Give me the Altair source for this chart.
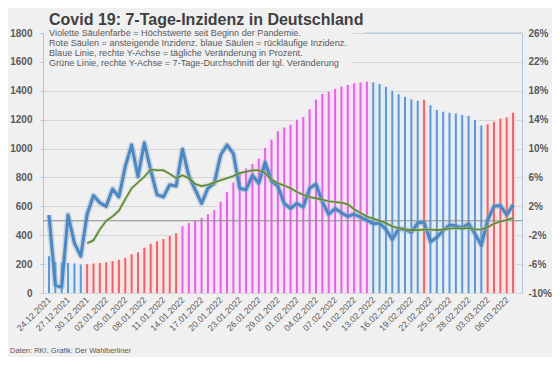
import json
import altair as alt
import pandas as pd

titel = "Covid 19: 7-Tage-Inzidenz in Deutschland"
untertitel = [
    "Violette Säulenfarbe = Höchstwerte seit Beginn der Pandemie.",
    "Rote Säulen = ansteigende Inzidenz. blaue Säulen = rückläufige Inzidenz.",
    "Blaue Linie, rechte Y-Achse = tägliche Veränderung in Prozent.",
    "Grüne Linie, rechte Y-Achse = 7-Tage-Durchschnitt der tgl. Veränderung",
]
quelle = "Daten: RKI, Grafik: Der Wahlberliner"

x_labels = ["24.12.2021", "27.12.2021", "30.12.2021", "02.01.2022", "05.01.2022",
            "08.01.2022", "11.01.2022", "14.01.2022", "17.01.2022", "20.01.2022",
            "23.01.2022", "26.01.2022", "29.01.2022", "01.02.2022", "04.02.2022",
            "07.02.2022", "10.02.2022", "13.02.2022", "16.02.2022", "19.02.2022",
            "22.02.2022", "25.02.2022", "28.02.2022", "03.03.2022", "06.03.2022"]

# 7-Tage-Inzidenz, 24.12.2021 - 07.03.2022
inzidenz = [255, 215, 210, 208, 205, 197, 200, 204, 208, 213,
            221, 230, 243, 268, 282, 314, 340, 358, 374, 395,
            414, 462, 484, 500, 520, 545, 575, 632, 698, 765,
            822, 862, 892, 930, 1005, 1062, 1120, 1145, 1165, 1200,
            1218, 1272, 1338, 1378, 1393, 1413, 1430, 1441, 1452, 1458,
            1463, 1459, 1447, 1428, 1400, 1376, 1358, 1341, 1331, 1337,
            1300, 1267, 1255, 1248, 1243, 1232, 1227, 1198, 1160, 1168,
            1186, 1207, 1215, 1248]
kategorie = (["blau"] * 6 + ["rot"] * 15 + ["violett"] * 30 + ["blau"] * 8
             + ["rot"] + ["blau"] * 9 + ["rot"] * 5)

# tägliche Veränderung in %
veraenderung = [0.8, -8.9, -9.2, 0.8, -3.1, -4.9, 0.9, 3.5, 2.5, 2.0,
                4.4, 3.3, 7.5, 10.5, 6.1, 10.8, 7.0, 3.6, 3.3, 5.0,
                4.8, 9.9, 6.2, 4.3, 2.4, 4.5, 5.2, 9.1, 10.5, 9.3,
                4.5, 4.3, 6.3, 5.2, 8.1, 5.5, 4.8, 2.4, 1.7, 2.4,
                1.9, 4.5, 5.1, 2.6, 0.9, 1.7, 1.1, 0.6, 0.9, 0.5,
                0.1, -0.4, -0.3, -1.2, -2.6, -1.1, -1.2, -1.6, -0.3, -0.2,
                -2.9, -2.3, -1.3, -0.6, -0.7, -1.0, -0.4, -1.8, -3.4, 0.1,
                2.0, 2.1, 0.8, 2.2]

# 7-Tage-Durchschnitt (ab 30.12.2021)
durchschnitt_start = 6
durchschnitt = [-3.1, -2.7, -1.2, 0.0, 0.6, 1.4, 3.0, 4.5, 5.3, 6.1,
                7.1, 7.0, 7.0, 6.5, 5.9, 6.3, 5.9, 5.1, 4.8, 5.0,
                5.3, 5.6, 5.9, 6.2, 6.6, 6.8, 7.0, 7.0, 6.6, 5.7,
                5.2, 4.9, 4.5, 4.0, 3.6, 3.3, 3.1, 2.9, 2.7, 2.6,
                2.5, 2.3, 1.6, 1.1, 0.6, 0.3, 0.0, -0.3, -0.8, -1.0,
                -1.2, -1.3, -1.3, -1.2, -1.2, -1.3, -1.2, -1.1, -1.0, -1.1,
                -1.0, -1.2, -1.2, -0.9, -0.4, -0.1, 0.1, 0.4]

farben = {"blau": "#6196cf", "rot": "#ea6469", "violett": "#e263e4"}
farben_hell = {"blau": "#e4edf8", "rot": "#f9e3e4", "violett": "#f8e2f8"}

n = len(inzidenz)
bars_df = pd.DataFrame({
    "i": list(range(n)),
    "inzidenz": inzidenz,
    "farbe": [farben[k] for k in kategorie],
    "hell": [farben_hell[k] for k in kategorie],
})
line_df = pd.DataFrame({"i": list(range(n)), "pct": veraenderung})
avg_df = pd.DataFrame({"i": list(range(durchschnitt_start, durchschnitt_start + len(durchschnitt))),
                       "pct": durchschnitt})

W, H = 479, 260
FONT = "Liberation Sans"
GRAY = "#595959"
AXBLUE = "#a9c6e2"

x_enc = alt.X(
    "i:Q",
    scale=alt.Scale(domain=[-0.154, 73.616], nice=False, zero=False),
    axis=alt.Axis(
        values=list(range(0, 73, 3)),
        labelExpr=json.dumps(x_labels) + "[round(datum.value / 3)]",
        labelAngle=-45, labelAlign="right", labelBaseline="middle",
        labelFontSize=8.8, labelColor=GRAY, labelFont=FONT, labelPadding=5,
        labelFlush=False, labelOverlap=False, labelBound=False,
        ticks=False, domain=False, grid=False, title=None,
    ),
)

left_axis = alt.Axis(
    values=list(range(0, 1801, 200)), orient="left", format="d",
    labelFontSize=10, labelFontWeight="bold", labelColor=GRAY, labelFont=FONT,
    labelPadding=8, tickSize=3, tickColor=AXBLUE, domainColor=AXBLUE,
    grid=True, gridColor="#d6d6d6", gridWidth=1, title=None,
)
y_left = alt.Y("inzidenz:Q", scale=alt.Scale(domain=[0, 1800], nice=False), axis=left_axis)

pale = alt.Chart(bars_df).mark_bar(size=6.5).encode(
    x=x_enc, y=y_left, color=alt.Color("hell:N", scale=None))
thin = alt.Chart(bars_df).mark_bar(size=2).encode(
    x=x_enc, y=y_left, color=alt.Color("farbe:N", scale=None))
left_group = alt.layer(pale, thin)

right_axis = alt.Axis(
    values=list(range(-10, 27, 4)), orient="right",
    labelExpr="datum.value + '%'",
    labelFontSize=10, labelFontWeight="bold", labelColor=GRAY, labelFont=FONT,
    labelPadding=6, ticks=False, domainColor=AXBLUE, grid=False, title=None,
)
y_right = alt.Y("pct:Q", scale=alt.Scale(domain=[-10, 26], nice=False, zero=False), axis=right_axis)

zero = alt.Chart(pd.DataFrame({"pct": [0]})).mark_rule(color="#8c8c8c", strokeWidth=1).encode(y=y_right)
shadow = alt.Chart(line_df).mark_line(color="#8aa4be", strokeWidth=6, opacity=0.4, strokeJoin="round").encode(x=x_enc, y=y_right)
blue = alt.Chart(line_df).mark_line(color="#4a87c5", strokeWidth=3, strokeJoin="round").encode(x=x_enc, y=y_right)
gshadow = alt.Chart(avg_df).mark_line(color="#b5c4a5", strokeWidth=3.5, opacity=0.5).encode(x=x_enc, y=y_right)
green = alt.Chart(avg_df).mark_line(color="#5b8a2c", strokeWidth=1.6).encode(x=x_enc, y=y_right)
right_group = alt.layer(zero, shadow, blue, gshadow, green)

cover = alt.Chart(pd.DataFrame({"a": [0]})).mark_rect(color="#f0f0f0").encode(
    x=alt.value(1), x2=alt.value(310), y=alt.value(-1), y2=alt.value(38))
top_border = alt.Chart(pd.DataFrame({"a": [0]})).mark_rule(color=AXBLUE, strokeWidth=1).encode(
    x=alt.value(322), x2=alt.value(W), y=alt.value(0))
title_txt = alt.Chart(pd.DataFrame({"a": [0]})).mark_text(
    text=titel, align="left", baseline="alphabetic", font=FONT, fontSize=16,
    fontWeight="bold", color="#404040").encode(x=alt.value(6), y=alt.value(-8))
sub_txt = alt.Chart(pd.DataFrame({"a": [0]})).mark_text(
    text=untertitel, align="left", baseline="alphabetic", font=FONT, fontSize=9.1,
    lineHeight=9.8, color=GRAY).encode(x=alt.value(6), y=alt.value(3.2))
foot_txt = alt.Chart(pd.DataFrame({"a": [0]})).mark_text(
    text=quelle, align="left", baseline="alphabetic", font=FONT, fontSize=7.5,
    color=GRAY).encode(x=alt.value(-33), y=alt.value(319.5))
overlay = alt.layer(cover, top_border, title_txt, sub_txt, foot_txt)

chart = alt.layer(left_group, right_group, overlay).resolve_scale(y="independent").properties(
    width=W, height=H,
    autosize=alt.AutoSizeParams(type="none"),
    padding={"left": 35, "top": 25, "right": 30, "bottom": 64},
).configure(background="#f0f0f0", font=FONT).configure_view(stroke=None)

chart.save("out.html", embed_options={"renderer": "svg", "actions": False})
